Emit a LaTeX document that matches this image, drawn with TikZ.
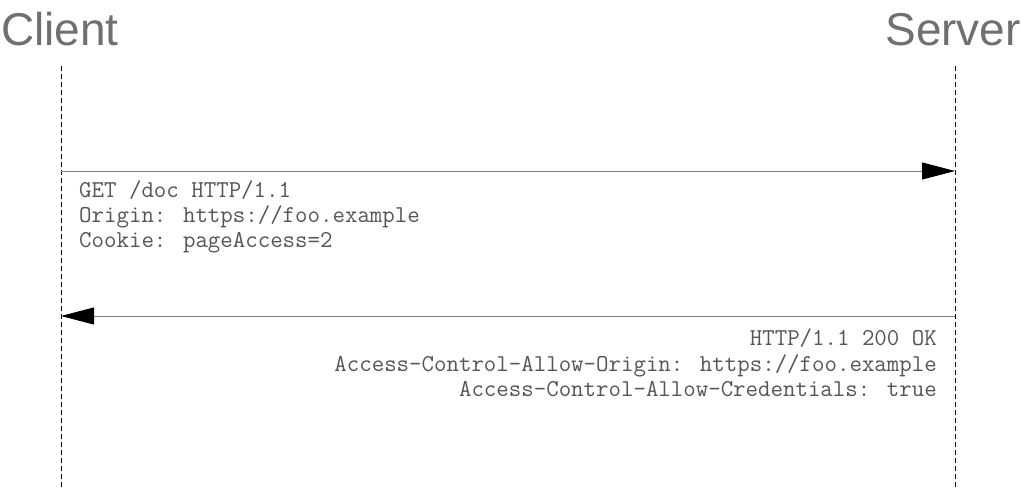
\documentclass[tikz,border=0pt]{standalone}
\usepackage{fontspec}
\usetikzlibrary{arrows.meta}
\newfontfamily\headfont{Liberation Sans}
\definecolor{headgray}{HTML}{707070}
\definecolor{msggray}{HTML}{555555}
\definecolor{linegray}{HTML}{808080}
\tikzset{
  actor/.style={inner sep=0pt, text=headgray, font=\headfont\fontsize{46}{46}\selectfont},
  lifeline/.style={black, line width=0.8pt, dash pattern=on 5pt off 3pt},
  msgline/.style={linegray, line width=0.9pt, -{Triangle[length=33pt,width=17pt,color=black]}},
  msgtext/.style={inner sep=0pt, text=msggray, font=\ttfamily\fontsize{24.2}{25}\selectfont}
}
\begin{document}
\begin{tikzpicture}[x=1pt,y=-1pt]
    \useasboundingbox (0,0) rectangle (1023,490);
    \node[actor, anchor=base west] (client) at (1,45) {Client};
    \node[actor, anchor=base east] (server) at (1021,45) {Server};
    % lifelines
    \coordinate (ctop) at (61,66);
    \coordinate (cbot) at (61,490);
    \coordinate (stop) at (955,66);
    \coordinate (sbot) at (955,490);
    \draw[lifeline] (ctop) -- (cbot);
    \draw[lifeline] (stop) -- (sbot);
    % request
    \coordinate (creq) at (61,171);
    \coordinate (sreq) at (955,171);
    \draw[msgline] (creq) -- (sreq);
    \foreach \txt [count=\i] in {GET /doc HTTP/1.1, Origin: https://foo.example, Cookie: pageAccess=2}
        {\node[msgtext, anchor=base west] (req\i) at (79,173+24.7*\i) {\txt};}
    % response
    \coordinate (sres) at (955,316);
    \coordinate (cres) at (61,316);
    \draw[msgline] (sres) -- (cres);
    \foreach \txt [count=\i] in {HTTP/1.1 200 OK, Access-Control-Allow-Origin: https://foo.example, Access-Control-Allow-Credentials: true}
        {\node[msgtext, anchor=base east] (res\i) at (937,320+25.5*\i) {\txt};}
\end{tikzpicture}
\end{document}
